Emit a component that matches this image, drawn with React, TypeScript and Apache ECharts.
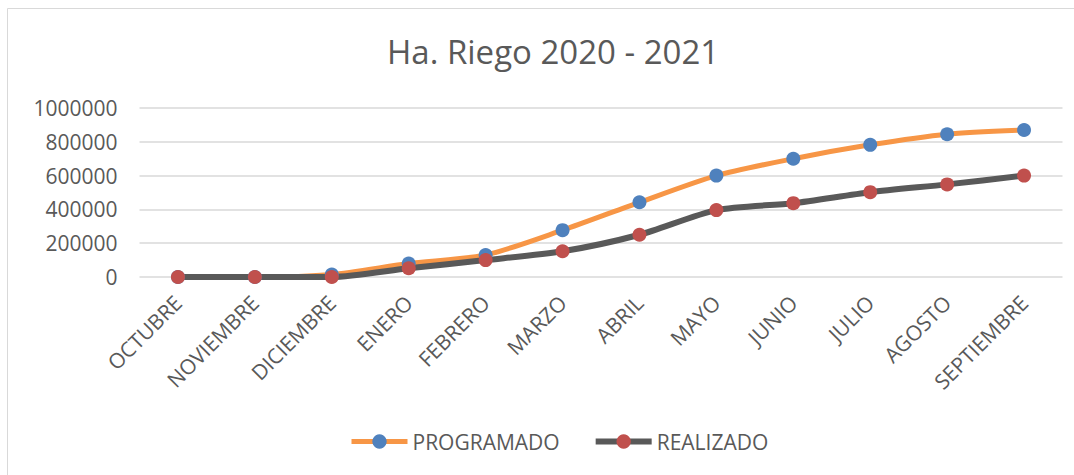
import React, { useEffect, useRef } from "react";
import * as echarts from "echarts";

const categories = ["OCTUBRE", "NOVIEMBRE", "DICIEMBRE", "ENERO", "FEBRERO", "MARZO", "ABRIL", "MAYO", "JUNIO", "JULIO", "AGOSTO", "SEPTIEMBRE"];
const programado = [0, 0, 15000, 80000, 130000, 277000, 442000, 600000, 700000, 782000, 845000, 870000];
const realizado = [0, 0, 0, 52000, 100000, 152000, 250000, 396000, 437000, 502000, 548000, 600000];
const yTicks = { min: 0, max: 1000000, interval: 200000 };

const FONT = "'Open Sans', sans-serif";
const TEXT = "#595959";

export default function App() {
  const ref = useRef<HTMLDivElement>(null);
  useEffect(() => {
    if (!ref.current) return;
    const chart = echarts.init(ref.current, null, { renderer: "svg" });
    chart.setOption({
      animation: false,
      backgroundColor: "#ffffff",
      textStyle: { fontFamily: FONT },
      title: {
        text: "Ha. Riego 2020 - 2021",
        left: 382,
        top: 30,
        textStyle: { fontFamily: FONT, fontSize: 33, fontWeight: "normal", color: TEXT },
      },
      graphic: [
        {
          type: "rect",
          shape: { x: 7.5, y: 8.5, width: 1200, height: 600 },
          style: { fill: "none", stroke: "#d9d9d9", lineWidth: 1 },
          silent: true,
        },
      ],
      legend: {
        left: 344,
        top: 426,
        itemWidth: 56,
        itemHeight: 18,
        itemGap: 33,
        textStyle: { fontFamily: FONT, fontSize: 21, color: TEXT, padding: [0, 0, 0, 0] },
        data: [
          { name: "PROGRAMADO", lineStyle: { width: 5 } },
          { name: "REALIZADO", lineStyle: { width: 6 } },
        ],
      },
      grid: { left: 139.5, right: 11.5, top: 108, bottom: 198, containLabel: false },
      xAxis: {
        type: "category",
        data: categories,
        boundaryGap: true,
        axisLine: { show: false },
        axisTick: { show: false },
        axisLabel: { rotate: 45, fontFamily: FONT, fontSize: 21, color: TEXT, margin: 22, interval: 0 },
      },
      yAxis: {
        type: "value",
        min: yTicks.min,
        max: yTicks.max,
        interval: yTicks.interval,
        axisLine: { show: false },
        axisTick: { show: false },
        splitLine: { lineStyle: { color: "#d9d9d9", width: 1.5 } },
        axisLabel: { fontFamily: FONT, fontSize: 21, color: TEXT, margin: 22, formatter: (v: number) => String(v) },
      },
      series: [
        {
          name: "PROGRAMADO",
          type: "line",
          data: programado,
          smooth: 0.25,
          symbol: "circle",
          symbolSize: 14,
          lineStyle: { color: "#F79646", width: 5 },
          itemStyle: { color: "#4F81BD" },
        },
        {
          name: "REALIZADO",
          type: "line",
          data: realizado,
          smooth: 0.25,
          symbol: "circle",
          symbolSize: 14,
          lineStyle: { color: "#595959", width: 6 },
          itemStyle: { color: "#C0504D" },
        },
      ],
    });
    return () => chart.dispose();
  }, []);
  return (
    <div
      ref={ref}
      style={{ position: "fixed", left: 0, top: 0, width: 1074, height: 475 }}
    />
  );
}
